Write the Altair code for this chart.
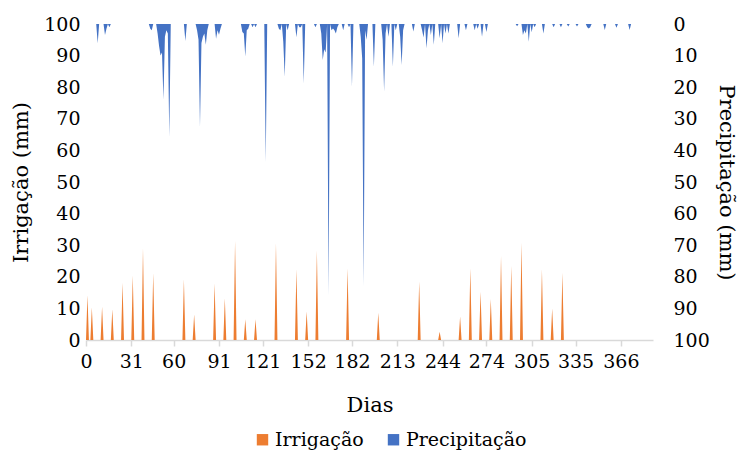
import altair as alt
import pandas as pd

# ---- data ----
x_ticks = [0, 31, 60, 91, 121, 152, 182, 213, 244, 274, 305, 335, 366]

irr_days = [1, 4, 11, 18, 25, 32, 39, 46, 67, 74, 88, 95, 102, 109, 116, 130,
            144, 151, 158, 179, 200, 228, 242, 256, 263, 270, 277, 284, 291,
            298, 312, 319, 326]
irr_vals = [14.2, 10.3, 10.5, 9.7, 18.1, 20.4, 29.0, 21.1, 19.2, 8.1, 17.9,
            13.2, 31.3, 6.6, 6.6, 30.6, 22.4, 9.0, 28.3, 22.7, 8.6, 18.5, 2.6,
            7.4, 22.7, 15.3, 13.0, 26.6, 23.4, 30.8, 22.4, 10.0, 21.3]

prec_days = [8, 13, 14, 16, 44, 45, 49, 50, 51, 52, 53, 54, 55, 56, 57, 68,
             76, 77, 78, 79, 80, 81, 82, 83, 89, 90, 91, 92, 107, 108, 109,
             110, 111, 114, 116, 123, 132, 133, 135, 136, 138, 144, 146, 147,
             149, 157, 161, 162, 163, 164, 166, 168, 169, 170, 171, 172, 176,
             180, 182, 188, 189, 190, 191, 192, 197, 203, 204, 205, 207, 210,
             212, 215, 216, 217, 224, 230, 231, 233, 234, 236, 238, 242, 244,
             246, 248, 255, 260, 266, 268, 271, 274, 295, 299, 300, 301, 303,
             305, 307, 313, 320, 325, 330, 336, 343, 344, 345, 355, 363, 372]
prec_vals = [6.1, 3.5, 1.5, 1.0, 1.5, 2.0, 3.0, 7.0, 10.0, 9.0, 24.0, 4.0,
             2.0, 3.0, 35.7, 5.4, 2.0, 5.0, 32.5, 6.0, 4.0, 3.0, 6.6, 2.0, 4.7,
             2.0, 3.4, 1.5, 2.5, 3.0, 10.3, 2.0, 1.5, 1.0, 1.0, 43.7, 1.5, 2.0,
             5.6, 16.7, 2.0, 4.2, 1.0, 1.0, 18.8, 1.0, 3.0, 11.4, 8.0, 9.0,
             86.0, 2.0, 1.4, 2.0, 3.0, 1.0, 2.0, 1.0, 19.8, 4.0, 10.9, 83.0,
             2.0, 5.0, 13.5, 5.0, 21.4, 3.0, 4.0, 13.5, 2.0, 4.0, 13.0, 2.0,
             2.4, 2.0, 4.3, 7.7, 2.0, 3.5, 6.6, 4.5, 6.1, 3.0, 3.0, 4.5, 2.0,
             2.0, 1.5, 4.0, 2.5, 0.7, 3.5, 2.0, 3.0, 5.6, 2.6, 1.0, 3.0, 1.0,
             1.0, 0.8, 0.8, 1.0, 1.4, 1.0, 1.9, 1.2, 1.9]

N_DAYS = 388

# ---- daily table built from the arrays above ----
days = list(range(0, N_DAYS + 1))
irr = [0.0] * len(days)
for d, v in zip(irr_days, irr_vals):
    irr[d] = v
prec = [0.0] * len(days)
for d, v in zip(prec_days, prec_vals):
    prec[d] = v
df = pd.DataFrame({"dia": days, "irr": irr, "prec": prec,
                   "s_irr": "Irrigação", "s_prec": "Precipitação"})

FONT = "DejaVu Serif"
FS = 19
TFS = 21
LFS = 19

color_scale = alt.Scale(domain=["Irrigação", "Precipitação"],
                        range=["#ED7D31", "#4472C4"])

x_enc = alt.X(
    "dia:Q",
    scale=alt.Scale(domain=[0, N_DAYS], nice=False, zero=False),
    axis=alt.Axis(values=x_ticks, title="Dias", grid=False,
                  domainColor="#d9d9d9", domainWidth=1.5,
                  tickColor="#d9d9d9", tickWidth=1.5, tickSize=6,
                  labelPadding=6, titlePadding=23, labelFlush=False,
                  labelOverlap=False),
)

irr_layer = alt.Chart(df).mark_area(interpolate="linear").encode(
    x=x_enc,
    y=alt.Y("irr:Q", scale=alt.Scale(domain=[0, 100], nice=False),
            axis=alt.Axis(orient="left", values=list(range(0, 101, 10)),
                          title="Irrigação (mm)", grid=False, domain=False,
                          ticks=False, labelPadding=6, titlePadding=12)),
    color=alt.Color("s_irr:N", scale=color_scale,
                    legend=alt.Legend(orient="none", legendX=167, legendY=406,
                                      direction="horizontal", title=None,
                                      symbolType="square", symbolSize=130,
                                      symbolStrokeWidth=0,
                                      labelFont=FONT, labelFontSize=LFS,
                                      labelColor="black", labelOffset=3,
                                      columnPadding=20, padding=0)),
)

prec_layer = alt.Chart(df).mark_area(interpolate="linear").encode(
    x=x_enc,
    y=alt.Y("prec:Q", scale=alt.Scale(domain=[0, 100], nice=False, reverse=True),
            axis=alt.Axis(orient="right", values=list(range(0, 101, 10)),
                          title="Precipitação  (mm)", grid=False, domain=False,
                          ticks=False, labelPadding=20, titlePadding=6)),
    color=alt.Color("s_prec:N", scale=color_scale),
)

chart = (
    alt.layer(irr_layer, prec_layer)
    .resolve_scale(y="independent")
    .properties(width=567, height=316,
                autosize=alt.AutoSizeParams(type="none"),
                padding={"left": 86, "top": 24, "right": 91, "bottom": 112},
                background="white")
    .configure_view(stroke=None)
    .configure_axis(labelFont=FONT, titleFont=FONT, labelFontSize=FS,
                    titleFontSize=TFS, labelColor="black", titleColor="black",
                    titleFontWeight="normal")
    .configure_legend(labelFont=FONT, labelFontSize=LFS, labelColor="black")
)

chart.save("out.html", embed_options={"renderer": "svg", "actions": False})
